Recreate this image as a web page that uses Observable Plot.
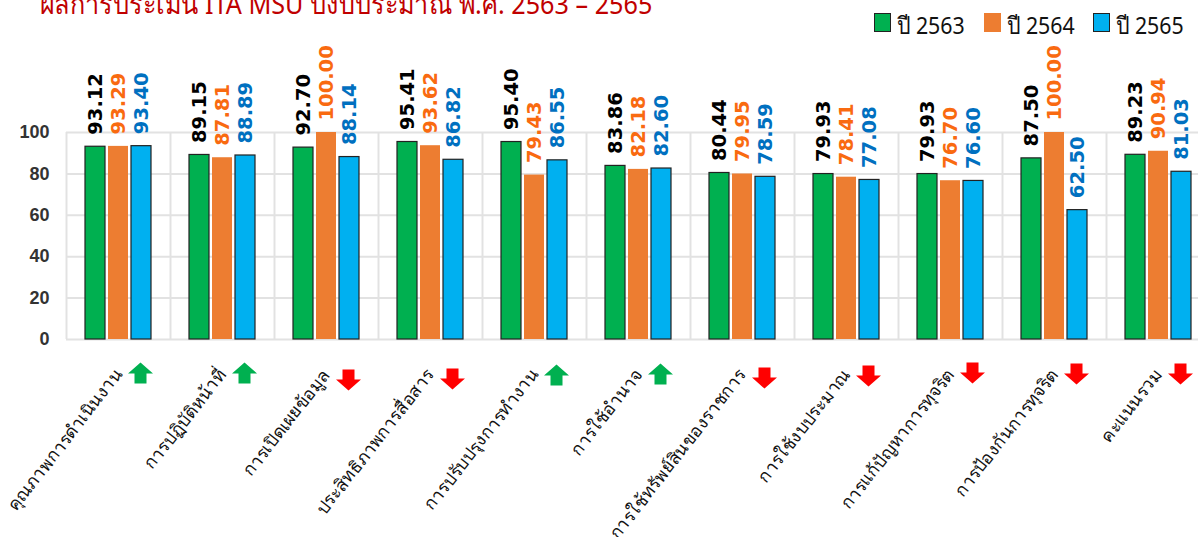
<!DOCTYPE html>
<html><head><meta charset="utf-8">
<script src="https://cdn.jsdelivr.net/npm/d3@7"></script>
<script src="https://cdn.jsdelivr.net/npm/@observablehq/plot@0.6"></script>
<style>
html,body{margin:0;padding:0;background:#fff;width:1198px;height:537px;overflow:hidden;position:relative}
#title{position:absolute;left:40px;top:-18px;font:28px "Noto Sans","Liberation Sans",sans-serif;color:#c00000;white-space:nowrap;transform-origin:0 0;transform:scaleX(0.9)}
#legend{position:absolute;top:0;left:0}
.sw{position:absolute;top:13px;width:17px;height:19px;box-sizing:border-box}
.lt{position:absolute;top:6px;font:24px "Noto Sans","Liberation Sans",sans-serif;color:#111;white-space:nowrap;transform-origin:0 0;transform:scaleX(0.89)}
svg{position:absolute;left:0;top:0}
</style></head><body>
<div id="chart"></div><div id="title"></div><div id="legend"></div>
<script>
const titleText = "ผลการประเมิน ITA MSU  ปีงบประมาณ พ.ศ. 2563 – 2565";
const categories = ["คุณภาพการดำเนินงาน","การปฏิบัติหน้าที่","การเปิดเผยข้อมูล","ประสิทธิภาพการสื่อสาร","การปรับปรุงการทำงาน","การใช้อำนาจ","การใช้ทรัพย์สินของราชการ","การใช้งบประมาณ","การแก้ปัญหาการทุจริต","การป้องกันการทุจริต","คะแนนรวม"];
const years = ["ปี 2563","ปี 2564","ปี 2565"];
const v2563 = [93.12,89.15,92.70,95.41,95.40,83.86,80.44,79.93,79.93,87.50,89.23];
const v2564 = [93.29,87.81,100.00,93.62,79.43,82.18,79.95,78.41,76.70,100.00,90.94];
const v2565 = [93.40,88.89,88.14,86.82,86.55,82.60,78.59,77.08,76.60,62.50,81.03];
const trend = ["up","up","down","down","up","up","down","down","down","down","down"];
const arrowLevels = [-16.4,-16.4,-19.3,-18.8,-17.4,-16.9,-18.4,-17.4,-15.9,-16.4,-16.4];
const yTicks = [0,20,40,60,80,100];
const barColors = ["#00b050","#ed7d31","#00b0f0"];
const labelColors = ["#000000","#f96a10","#0070c0"];
const barStrokes = ["#222","none","#222"];

const rows = categories.flatMap((c,i)=>[v2563,v2564,v2565].map((s,j)=>({cat:c,year:years[j],value:s[i],j})));
const arrows = categories.map((c,i)=>({cat:c,year:years[2],trend:trend[i],level:arrowLevels[i]}));
const arrowSymbol = dir => ({draw(ctx){
  const s = dir==="up"?-1:1;
  ctx.moveTo(-6,-10*s);ctx.lineTo(6,-10*s);ctx.lineTo(6,0);ctx.lineTo(12.5,0);ctx.lineTo(0,11*s);ctx.lineTo(-12.5,0);ctx.lineTo(-6,0);ctx.closePath();
}});
const chart = Plot.plot({
  width:1198,height:537,marginLeft:65,marginRight:0,marginTop:132,marginBottom:198,
  style:{background:"transparent",overflow:"hidden"},
  fx:{domain:categories,range:[65,1211],padding:0,label:null},
  x:{domain:years,range:[81,153],padding:0.13,axis:null},
  y:{domain:[0,100],axis:null},
  marks:[
    Plot.ruleY(yTicks,{stroke:"#e2e2e2",strokeWidth:2}),
    Plot.ruleX([years[0]],{y1:0,y2:100,dx:-29,stroke:"#e2e2e2",strokeWidth:2}),
    Plot.barY(rows,{fx:"cat",x:"year",y:"value",fill:d=>barColors[d.j],stroke:d=>barStrokes[d.j],strokeWidth:1.2}),
    Plot.text(rows,{fx:"cat",x:"year",y:"value",text:d=>d.value.toFixed(2),rotate:-90,textAnchor:"start",dy:-12,fill:d=>labelColors[d.j],fontSize:19.5,fontWeight:"bold",fontFamily:"DejaVu Sans"}),
    Plot.axisY(yTicks,{anchor:"left",facetAnchor:"left",tickSize:0,tickPadding:17,fontSize:18,fontWeight:"bold",fontFamily:"Liberation Sans",color:"#333",label:null}),
    Plot.axisFx({anchor:"bottom",tickSize:0,tickPadding:32,tickRotate:-52,fontSize:17.5,fontWeight:500,fontFamily:"Noto Sans",color:"#111",label:null}),
    ...["up","down"].map(t=>Plot.dot(arrows.filter(d=>d.trend===t),{fx:"cat",x:"year",y:"level",dx:-1,symbol:arrowSymbol(t),r:5,fill:t==="up"?"#00b050":"#ff0000",stroke:null}))
  ]
});
document.getElementById("chart").append(chart);
document.getElementById("title").textContent = titleText;
const lg = document.getElementById("legend");
const swX=[874,984,1093], tX=[897,1007,1116];
years.forEach((y,i)=>{
  const s=document.createElement("div");s.className="sw";s.style.left=swX[i]+"px";s.style.background=barColors[i];
  if(barStrokes[i]!=="none")s.style.border="1px solid "+barStrokes[i];lg.append(s);
  const t=document.createElement("div");t.className="lt";t.style.left=tX[i]+"px";t.textContent=y;lg.append(t);
});
</script></body></html>
